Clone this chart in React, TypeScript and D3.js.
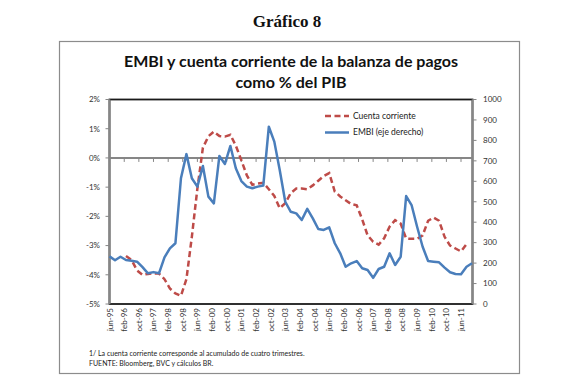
import React from "react";
import * as d3 from "d3";

// EMBI (pb, eje derecho), trimestral desde jun-95
const embiStart = new Date(1995, 5, 1);
const embiValues = [
  233, 214, 231, 215, 211, 207, 180, 150, 156, 150, 228, 272, 297, 615, 733, 615, 574,
  675, 525, 492, 724, 685, 773, 664, 601, 574, 566, 574, 579, 867, 794, 655, 500, 451,
  443, 411, 465, 419, 367, 362, 375, 297, 248, 182, 199, 210, 175, 166, 128, 171, 182,
  248, 191, 231, 528, 484, 378, 280, 210, 207, 204, 178, 155, 147, 145, 182, 199,
];

// Cuenta corriente (% del PIB), trimestral desde mar-96
const caStart = new Date(1996, 2, 1);
const caValues = [
  -3.36, -3.49, -3.85, -4.0, -3.97, -3.95, -3.96, -4.15, -4.47, -4.64, -4.72, -4.15, -2.7,
  -1.05, 0.35, 0.74, 0.9, 0.75, 0.73, 0.79, 0.42, -0.08, -0.6, -0.92, -0.88, -0.85, -1.07,
  -1.3, -1.72, -1.55, -1.2, -1.05, -1.05, -1.07, -0.94, -0.78, -0.62, -0.52, -1.15, -1.32,
  -1.45, -1.58, -1.62, -2.1, -2.65, -2.87, -2.97, -2.75, -2.35, -2.13, -2.25, -2.76, -2.77,
  -2.77, -2.65, -2.15, -2.04, -2.15, -2.7, -3.0, -3.1, -3.2, -2.95,
];

const xTickLabels = [
  "jun-95", "feb-96", "oct-96", "jun-97", "feb-98", "oct-98", "jun-99", "feb-00", "oct-00",
  "jun-01", "feb-02", "oct-02", "jun-03", "feb-04", "oct-04", "jun-05", "feb-06", "oct-06",
  "jun-07", "feb-08", "oct-08", "jun-09", "feb-10", "oct-10", "jun-11",
];
const leftTicks = [2, 1, 0, -1, -2, -3, -4, -5];
const rightTicks = [1000, 900, 800, 700, 600, 500, 400, 300, 200, 100, 0];

const W = 572;
const H = 392;
const plotL = 109.5;
const plotR = 472.5;
const plotT = 99.5;
const plotB = 304;

const sans = "Lato, 'Open Sans', sans-serif";
const blue = "#4a7ebb";
const red = "#be4b48";

export default function App() {
  const x = d3
    .scaleTime()
    .domain([embiStart, d3.timeDay.offset(d3.timeMonth.offset(embiStart, 198), 8)])
    .range([plotL, plotR]);
  const yL = d3.scaleLinear().domain([-5, 2]).range([plotB, plotT]);
  const yR = d3.scaleLinear().domain([0, 1000]).range([plotB, plotT]);

  const embiLine = d3
    .line<number>()
    .x((d, i) => x(d3.timeMonth.offset(embiStart, 3 * i)))
    .y((d) => yR(d));
  const caLine = d3
    .line<number>()
    .x((d, i) => x(d3.timeMonth.offset(caStart, 3 * i)))
    .y((d) => yL(d));

  const xTicks = xTickLabels.map((label, i) => ({
    label,
    pos: x(d3.timeMonth.offset(embiStart, 8 * i)),
  }));

  return (
    <svg
      width={W}
      height={H}
      style={{ position: "absolute", left: 0, top: 0, background: "#fff" }}
    >
      <text
        x={287}
        y={27}
        textAnchor="middle"
        fontFamily="'Liberation Serif', serif"
        fontWeight="bold"
        fontSize={17}
        fill="#111"
      >
        Gráfico 8
      </text>
      <rect x={59.5} y={41.5} width={460} height={332} fill="none" stroke="#8c8c8c" strokeWidth={1.2} />

      <g fontFamily={sans} fontWeight="bold" fontSize={16} fill="#111" textAnchor="middle">
        <text x={291} y={67}>EMBI y cuenta corriente de la balanza de pagos</text>
        <text x={291} y={88}>como % del PIB</text>
      </g>

      {/* plot frame */}
      <rect
        x={plotL}
        y={plotT}
        width={plotR - plotL}
        height={plotB - plotT}
        fill="none"
        stroke="#1a1a1a"
        strokeWidth={1.8}
      />
      <line x1={plotL} x2={plotL} y1={plotT} y2={plotB} stroke="#868686" strokeWidth={2} />
      <line x1={plotR} x2={plotR} y1={plotT} y2={plotB} stroke="#868686" strokeWidth={2} />

      {/* left axis */}
      <g fontFamily={sans} fontSize={8} fill="#333">
        {leftTicks.map((t) => (
          <g key={t}>
            <line x1={plotL - 4} x2={plotL} y1={yL(t)} y2={yL(t)} stroke="#868686" strokeWidth={1} />
            <text x={100} y={yL(t)} dy="0.35em" textAnchor="end">
              {t}%
            </text>
          </g>
        ))}
      </g>

      {/* right axis */}
      <g fontFamily={sans} fontSize={8} fill="#333">
        {rightTicks.map((t) => (
          <g key={t}>
            <line x1={plotR} x2={plotR + 4} y1={yR(t)} y2={yR(t)} stroke="#868686" strokeWidth={1} />
            <text x={483} y={yR(t)} dy="0.35em">
              {t}
            </text>
          </g>
        ))}
      </g>

      {/* 0% axis with category ticks */}
      <line x1={plotL} x2={plotR} y1={yL(0)} y2={yL(0)} stroke="#868686" strokeWidth={2} />
      {xTicks.map((t) => (
        <line key={t.label} x1={t.pos} x2={t.pos} y1={yL(0)} y2={yL(0) + 4} stroke="#868686" strokeWidth={1} />
      ))}

      {/* x labels */}
      <g fontFamily={sans} fontSize={8} fill="#333">
        {xTicks.map((t) => (
          <text
            key={t.label}
            transform={`translate(${t.pos + 3},308) rotate(-90)`}
            textAnchor="end"
          >
            {t.label}
          </text>
        ))}
      </g>

      {/* series */}
      <path d={caLine(caValues) ?? ""} fill="none" stroke={red} strokeWidth={2.5} strokeDasharray="6,3.5" />
      <path d={embiLine(embiValues) ?? ""} fill="none" stroke={blue} strokeWidth={2.5} strokeLinejoin="round" />

      {/* legend */}
      <g fontFamily={sans} fontSize={8.5} fill="#222">
        <line x1={325} x2={349} y1={116} y2={116} stroke={red} strokeWidth={2.5} strokeDasharray="6,3.5" />
        <text x={353} y={116} dy="0.35em">Cuenta corriente</text>
        <line x1={325} x2={349} y1={132.5} y2={132.5} stroke={blue} strokeWidth={2.5} />
        <text x={353} y={132.5} dy="0.35em">EMBI (eje derecho)</text>
      </g>

      {/* notes */}
      <g fontFamily={sans} fontSize={7} fill="#222">
        <text x={89} y={356}>1/ La cuenta corriente corresponde al acumulado de cuatro trimestres.</text>
        <text x={89} y={366}>FUENTE: Bloomberg, BVC y cálculos BR.</text>
      </g>
    </svg>
  );
}
